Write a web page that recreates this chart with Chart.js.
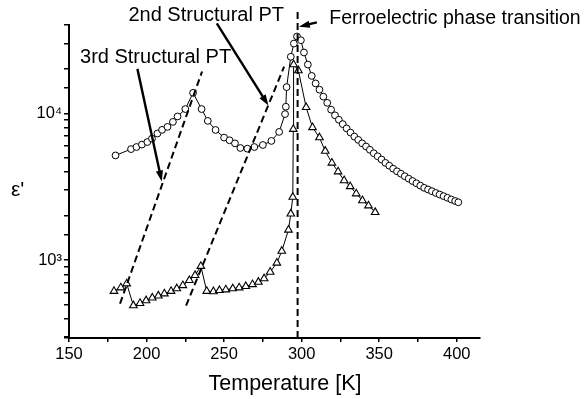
<!DOCTYPE html>
<html><head><meta charset="utf-8">
<script src="https://cdn.jsdelivr.net/npm/chart.js@4.4.1/dist/chart.umd.min.js"></script>
<style>html,body{margin:0;padding:0;background:#fff;}#wrap{width:584px;height:399px;}</style>
</head><body><div id="wrap"><canvas id="c" width="584" height="399"></canvas></div>
<script>
// ---- data ----
const circleT = [180, 190, 193.5, 197, 200.5, 203.5, 207, 210, 213.5, 217, 220, 225, 230, 235.5, 239.5, 244.5, 250, 253.5, 257, 260.5, 265, 269.5, 275, 280.5, 285.5, 289.3, 289.8, 290.3, 293, 295, 297,
  299.5, 301.5, 304, 306.5, 309, 311.5, 314, 316.5, 319, 321.5, 324, 326.5, 329, 331.5, 334, 336.5, 339, 341.5, 344, 346.5, 349, 351.5, 354, 356.5, 359, 361.5, 364, 366.5, 369, 371.5, 374, 376.5, 379, 381.5, 384, 386.5, 389, 391.5, 394, 396.5, 399, 401];
const circleEps = [5170, 5710, 5900, 6130, 6380, 6730, 7290, 7720, 8090, 8750, 9530, 10700, 13800, 10700, 8890, 7710, 6840, 6560, 6250, 5810, 5750, 5900, 6090, 6490, 7480, 9890, 11100, 15100, 24300, 29900, 33400,
  31500, 26000, 21500, 18000, 16000, 14500, 13000, 11800, 10600, 9700, 9050, 8450, 7900, 7400, 6950, 6600, 6250, 5950, 5650, 5350, 5100, 4850, 4600, 4400, 4200, 4030, 3880, 3730, 3590, 3460, 3340, 3220, 3110, 3030, 2950, 2870, 2800, 2730, 2660, 2590, 2530, 2480];
const triangleT = [179, 183.4, 187.2, 191.5, 195.8, 199.7, 203.7, 207.6, 211.5, 215.8, 219.5, 223.4, 227.6, 231.3, 235, 238.8, 243.1, 247, 251.1, 255.6, 259.7, 264, 268.3, 272.1, 275.8, 279.7, 284, 287.2, 291.5, 293, 294.3, 294.6, 294.8, 297.9, 302.9, 307, 311.5, 315.2, 319.5, 323.5, 327.4, 331.3, 335.2, 339.2, 343.1, 347.4];
const triangleEps = [615, 650, 692, 491, 509, 531, 554, 572, 591, 615, 640, 673, 729, 789, 910, 615, 612, 623, 630, 640, 650, 663, 684, 710, 749, 831, 958, 1153, 1607, 2070, 2690, 7800, 21500, 19600, 11000, 8020, 6840, 5540, 4600, 4010, 3490, 3180, 2840, 2550, 2350, 2120];
const xTickLabels = {150: '150', 200: '200', 250: '250', 300: '300', 350: '350', 400: '400'};
const yTickLabels = {1000: '10³', 10000: '10⁴'};
// dashed guide lines (data coordinates: temperature, epsilon)
const guide3rdT = [182.9, 235.8];  const guide3rdEps = [505, 19300];
const guide2ndT = [225.5, 288.7];  const guide2ndEps = [491, 20800];
const guideFerroT = [297.4, 297.4]; const guideFerroEps = [295, 50400];

const FONT = "'Liberation Sans', Arial, Helvetica, sans-serif";
const pts = (xs, ys) => xs.map((v, i) => ({x: v, y: ys[i]}));

const annotations = {
  labels: [
    {text: '3rd Structural PT', at: [157.1, 24000], size: 20},
    {text: '2nd Structural PT', at: [188.3, 46100], size: 20},
    {text: 'Ferroelectric phase transition', at: [317.8, 44000], size: 19.5}
  ],
  arrows: [
    {from: [194.1, 20100], to: [209.8, 3440]},
    {from: [245.3, 41000], to: [278.6, 11300]},
    {from: [309.8, 41700], to: [298.2, 38900]}
  ]
};

const annotPlugin = {
  id: 'annot',
  afterDatasetsDraw(chart) {
    const {ctx, scales: {x, y}} = chart;
    ctx.save();
    ctx.fillStyle = '#000'; ctx.strokeStyle = '#000';
    annotations.arrows.forEach(a => {
      const x1 = x.getPixelForValue(a.from[0]), y1 = y.getPixelForValue(a.from[1]);
      const x2 = x.getPixelForValue(a.to[0]), y2 = y.getPixelForValue(a.to[1]);
      const ang = Math.atan2(y2 - y1, x2 - x1), L = 11, W = 3.6;
      ctx.lineWidth = 2.4; ctx.setLineDash([]);
      ctx.beginPath(); ctx.moveTo(x1, y1);
      ctx.lineTo(x2 - Math.cos(ang) * L * 0.8, y2 - Math.sin(ang) * L * 0.8); ctx.stroke();
      ctx.beginPath(); ctx.moveTo(x2, y2);
      ctx.lineTo(x2 - Math.cos(ang) * L - Math.sin(ang) * W, y2 - Math.sin(ang) * L + Math.cos(ang) * W);
      ctx.lineTo(x2 - Math.cos(ang) * L + Math.sin(ang) * W, y2 - Math.sin(ang) * L - Math.cos(ang) * W);
      ctx.closePath(); ctx.fill();
    });
    ctx.textBaseline = 'middle'; ctx.textAlign = 'left';
    annotations.labels.forEach(l => {
      ctx.font = l.size + 'px ' + FONT;
      ctx.fillText(l.text, x.getPixelForValue(l.at[0]), y.getPixelForValue(l.at[1]));
    });
    // y axis title (horizontal)
    ctx.font = '21px ' + FONT;
    ctx.fillText("ε'", 11, 190);
    // x axis title
    ctx.textAlign = 'center';
    ctx.font = '21.5px ' + FONT;
    ctx.fillText('Temperature [K]', 285, 384);
    ctx.restore();
  }
};

const guideStyle = {borderColor: '#000', borderWidth: 2, borderDash: [7, 4], pointRadius: 0, fill: false, tension: 0};

new Chart(document.getElementById('c'), {
  type: 'line',
  data: {
    datasets: [
      Object.assign({label: 'guide3', data: pts(guide3rdT, guide3rdEps)}, guideStyle),
      Object.assign({label: 'guide2', data: pts(guide2ndT, guide2ndEps)}, guideStyle),
      Object.assign({label: 'guideF', data: pts(guideFerroT, guideFerroEps), clip: false}, guideStyle),
      {label: 'circles', data: pts(circleT, circleEps), borderColor: '#000', borderWidth: 1, pointStyle: 'circle', pointRadius: 3.4,
        pointBackgroundColor: '#fff', pointBorderColor: '#000', pointBorderWidth: 1, fill: false, tension: 0},
      {label: 'triangles', data: pts(triangleT, triangleEps), borderColor: '#000', borderWidth: 1, pointStyle: 'triangle', pointRadius: 4.4,
        pointBackgroundColor: '#fff', pointBorderColor: '#000', pointBorderWidth: 1.1, fill: false, tension: 0}
    ]
  },
  options: {
    responsive: false, animation: false, devicePixelRatio: 1,
    layout: {padding: {left: 0, top: 25, right: 104, bottom: 0}},
    plugins: {legend: {display: false}, tooltip: {enabled: false}},
    scales: {
      x: {
        type: 'linear', min: 150, max: 415,
        grid: {display: true, drawOnChartArea: false, drawTicks: true, tickLength: 4, color: '#000', lineWidth: 1.5},
        border: {display: true, color: '#000', width: 2},
        ticks: {stepSize: 25, autoSkip: false, includeBounds: false, maxRotation: 0, color: '#000', padding: 3,
          font: {family: FONT, size: 16.5}, callback: v => xTickLabels[v] || ''},
        title: {display: false},
        afterFit: s => { s.height = 61; }
      },
      y: {
        type: 'logarithmic', min: 295, max: 40000,
        grid: {display: true, drawOnChartArea: false, drawTicks: true, tickLength: 5, color: '#000', lineWidth: 1.5},
        border: {display: true, color: '#000', width: 2},
        ticks: {autoSkip: false, color: '#000', padding: 2, font: {family: FONT, size: 16.5}, callback: v => yTickLabels[v] || ''},
        afterFit: s => { s.width = 69; }
      }
    }
  },
  plugins: [annotPlugin]
});
</script></body></html>
